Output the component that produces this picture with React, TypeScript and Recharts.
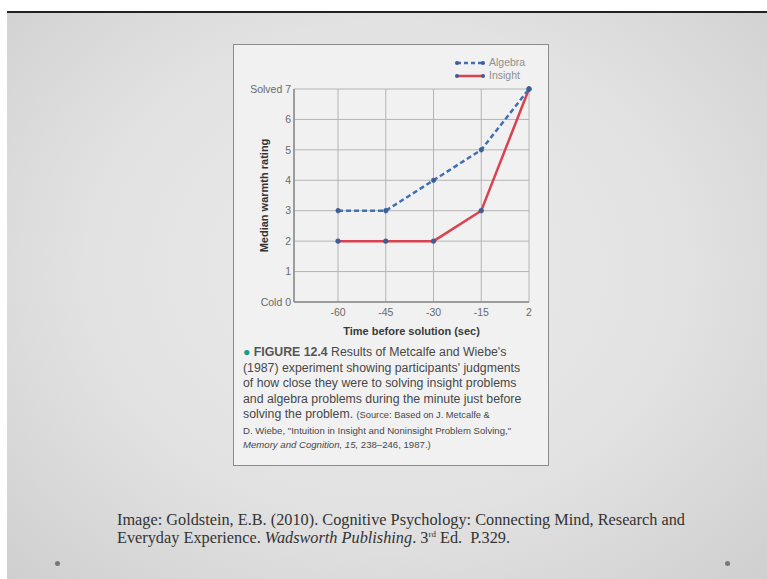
import { LineChart, Line, XAxis, YAxis, CartesianGrid } from 'recharts';

const TIMES = ['-60', '-45', '-30', '-15', '2'];
const ALGEBRA = [3, 3, 4, 5, 7];
const INSIGHT = [2, 2, 2, 3, 7];
const Y_TICKS = [0, 1, 2, 3, 4, 5, 6, 7];

const BLUE = '#3f6fb5';
const RED = '#d9424f';
const DOT = '#3d5d95';

const chartData = TIMES.map((t, i) => ({ time: t, algebra: ALGEBRA[i], insight: INSIGHT[i] }));

function yLabel(v: number): string {
  if (v === 7) return 'Solved 7';
  if (v === 0) return 'Cold 0';
  return String(v);
}

const CAPTION_LINES = [
  "(1987) experiment showing participants' judgments",
  'of how close they were to solving insight problems',
  'and algebra problems during the minute just before',
];

export default function App() {
  const sans = '"Liberation Sans", Arial, sans-serif';
  return (
    <div
      style={{
        position: 'fixed',
        left: 0,
        top: 0,
        width: 767,
        height: 579,
        background: '#fff',
        overflow: 'hidden',
      }}
    >
      {/* slide background */}
      <div
        style={{
          position: 'absolute',
          left: 7,
          top: 11,
          width: 760,
          height: 568,
          borderTop: '2px solid #222',
          background: 'radial-gradient(ellipse at 50% 45%, #ebebeb 0%, #e2e2e2 55%, #cfcfcf 100%)',
        }}
      />
      {/* figure box */}
      <div
        style={{
          position: 'absolute',
          left: 233,
          top: 44,
          width: 314,
          height: 420,
          border: '1.5px solid #8c8c8c',
          background: '#f1f1f1',
        }}
      />
      <div style={{ position: 'absolute', left: 233, top: 44 }}>
        <LineChart width={315} height={300} data={chartData} margin={{ top: 45, right: 19, left: 0, bottom: 0 }}>
          <CartesianGrid stroke="#b4b4b4" strokeWidth={1} />
          <XAxis
            dataKey="time"
            padding={{ left: 44, right: 0 }}
            height={42}
            tickSize={0}
            tickMargin={7}
            axisLine={{ stroke: '#8a8a8a', strokeWidth: 1.5 }}
            tick={{ fill: '#6a6a6a', fontSize: 10.5, fontFamily: sans }}
            label={{
              value: 'Time before solution (sec)',
              position: 'insideBottom',
              offset: 9,
              style: { fill: '#3a3a3a', fontSize: 11, fontWeight: 700, fontFamily: sans },
            }}
          />
          <YAxis
            domain={[0, 7]}
            ticks={Y_TICKS}
            width={61}
            tickSize={0}
            tickMargin={3}
            tickFormatter={yLabel}
            axisLine={{ stroke: '#8a8a8a', strokeWidth: 1.5 }}
            tick={{ fill: '#6a6a6a', fontSize: 10.5, fontFamily: sans }}
            label={{
              value: 'Median warmth rating',
              angle: -90,
              position: 'insideLeft',
              offset: 31,
              style: { fill: '#333', fontSize: 11, fontWeight: 700, fontFamily: sans, textAnchor: 'middle' },
            }}
          />
          <Line
            dataKey="insight"
            stroke={RED}
            strokeWidth={2.5}
            dot={{ r: 2.4, fill: DOT, stroke: DOT, strokeWidth: 0.5 }}
            isAnimationActive={false}
          />
          <Line
            dataKey="algebra"
            stroke={BLUE}
            strokeWidth={2.5}
            strokeDasharray="5 3"
            dot={{ r: 2.4, fill: DOT, stroke: DOT, strokeWidth: 0.5 }}
            isAnimationActive={false}
          />
        </LineChart>
      </div>
      {/* legend */}
      <div style={{ position: 'absolute', left: 455, top: 56, fontFamily: sans, fontSize: 10.5, color: '#8f8f8f', lineHeight: '13px' }}>
        {[
          { name: 'Algebra', color: BLUE, dash: '4 3' },
          { name: 'Insight', color: RED, dash: undefined },
        ].map((s) => (
          <div key={s.name} style={{ display: 'flex', alignItems: 'center', height: 13 }}>
            <svg width={30} height={8}>
              <line x1={2} y1={4} x2={28} y2={4} stroke={s.color} strokeWidth={2.5} strokeDasharray={s.dash} />
              <circle cx={2} cy={4} r={2} fill={DOT} />
              <circle cx={28} cy={4} r={2} fill={DOT} />
            </svg>
            <span style={{ marginLeft: 4 }}>{s.name}</span>
          </div>
        ))}
      </div>
      {/* caption */}
      <div
        style={{
          position: 'absolute',
          left: 243,
          top: 345,
          fontFamily: sans,
          fontSize: 12.3,
          color: '#484848',
          lineHeight: '15.5px',
          whiteSpace: 'nowrap',
        }}
      >
        <div>
          <span style={{ color: '#1a9a8a' }}>●</span>{' '}
          <b style={{ color: '#555' }}>FIGURE 12.4</b> Results of Metcalfe and Wiebe's
        </div>
        {CAPTION_LINES.map((l) => (
          <div key={l}>{l}</div>
        ))}
        <div>
          solving the problem. <span style={{ fontSize: 9.3 }}>(Source: Based on J. Metcalfe &amp;</span>
        </div>
        <div style={{ fontSize: 9.6, lineHeight: '14.5px' }}>
          D. Wiebe, "Intuition in Insight and Noninsight Problem Solving,"
        </div>
        <div style={{ fontSize: 9.6, lineHeight: '14.5px' }}>
          <i>Memory and Cognition, 15,</i> 238–246, 1987.)
        </div>
      </div>
      {/* citation */}
      <div
        style={{
          position: 'absolute',
          left: 117,
          top: 511,
          fontFamily: '"Liberation Serif", serif',
          fontSize: 16.3,
          color: '#333',
          lineHeight: '17.5px',
          whiteSpace: 'nowrap',
        }}
      >
        <div>Image: Goldstein, E.B. (2010). Cognitive Psychology: Connecting Mind, Research and</div>
        <div>
          Everyday Experience. <i>Wadsworth Publishing</i>. 3<sup style={{ fontSize: 9, lineHeight: 0 }}>rd</sup> Ed.&nbsp; P.329.
        </div>
      </div>
      <div style={{ position: 'absolute', left: 55, top: 561, width: 5, height: 5, borderRadius: 3, background: '#777' }} />
      <div style={{ position: 'absolute', left: 725, top: 561, width: 5, height: 5, borderRadius: 3, background: '#777' }} />
    </div>
  );
}
